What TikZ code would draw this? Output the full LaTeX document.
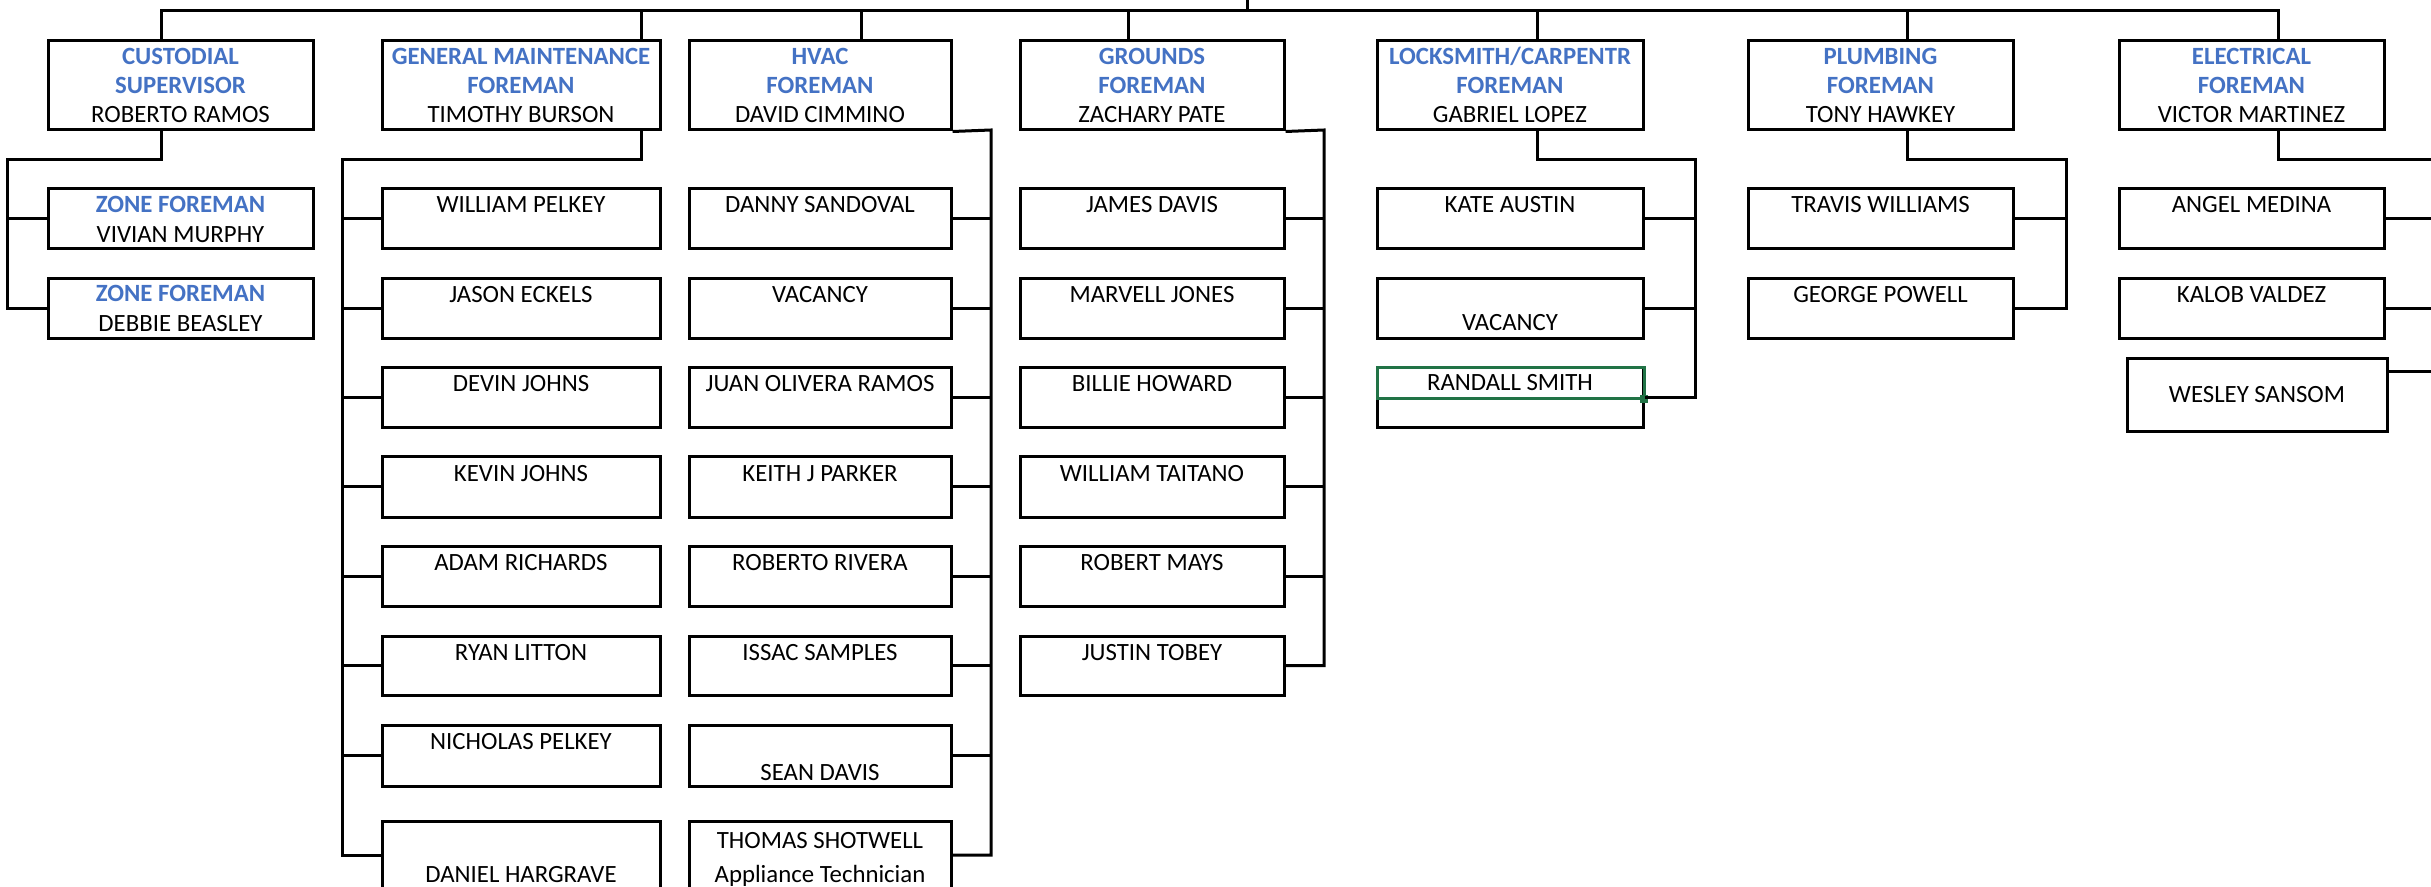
\documentclass[tikz,border=0pt]{standalone}
\usepackage{fontspec}
\setmainfont{Carlito}
\usetikzlibrary{fit}
\definecolor{ttlblue}{HTML}{4472C4}
\definecolor{selgreen}{HTML}{217346}
\begin{document}
\begin{tikzpicture}[x=0.5pt,y=-0.5pt,
  box/.style={draw=black, line width=1.5pt, inner sep=0pt},
  selbox/.style={draw=selgreen, line width=1.5pt, inner sep=0pt},
  wire/.style={draw=black, line width=1.5pt},
  nm/.style={inner sep=0pt, font=\fontsize{12.4pt}{15pt}\selectfont, text height=8pt, text depth=0pt, text=black},
  ttl/.style={nm, font=\fontsize{12.4pt}{15pt}\selectfont\bfseries, text=ttlblue}]
\useasboundingbox (0,0) rectangle (2431,887);
\clip (0,0) rectangle (2431,887);
\fill[white] (0,0) rectangle (2431,887);

% ---------- header boxes
\node[box, fit={(48,41) (313,130)}] (cust) {};
\node[box, fit={(382,41) (660,130)}] (gm) {};
\node[box, fit={(689,41) (951,130)}] (hvac) {};
\node[box, fit={(1020,41) (1284,130)}] (grd) {};
\node[box, fit={(1377,41) (1643,130)}] (lock) {};
\node[box, fit={(1748,41) (2013,130)}] (plmb) {};
\node[box, fit={(2119,41) (2384,130)}] (elec) {};

% ---------- child boxes
\foreach \i/\t/\b in {1/189/249, 2/279/339, 3/368/428, 4/457/517, 5/546/606, 6/636/695, 7/725/786, 8/821/889} {
  \node[box, fit={(382,\t) (660,\b)}] (g\i) {};
  \node[box, fit={(689,\t) (951,\b)}] (h\i) {};
}
\foreach \i/\t/\b in {1/189/249, 2/279/339, 3/368/428, 4/457/517, 5/546/606, 6/636/695} {
  \node[box, fit={(1020,\t) (1284,\b)}] (gr\i) {};
}
\foreach \i/\t/\b in {1/189/249, 2/279/339} {
  \node[box, fit={(48,\t) (313,\b)}] (c\i) {};
  \node[box, fit={(1748,\t) (2013,\b)}] (p\i) {};
  \node[box, fit={(2119,\t) (2384,\b)}] (e\i) {};
}
\foreach \i/\t/\b in {1/189/249, 2/279/339, 3/368/428} {
  \node[box, fit={(1377,\t) (1643,\b)}] (l\i) {};
}
\node[box, fit={(2127,359) (2387,432)}] (e3) {};
\node[selbox, fit={(1377,368) (1644,399)}] (sel) {};
\fill[selgreen] (1640,395) rectangle (1648,403);

% ---------- coordinates
\coordinate (root) at (1247,-5);
\coordinate (cT) at (161,11);
\coordinate (gT) at (641,11);
\coordinate (hT) at (861,11);
\coordinate (grT) at (1128,11);
\coordinate (lT) at (1537,11);
\coordinate (pT) at (1907,11);
\coordinate (eT) at (2278,11);
\coordinate (cBus) at (7,160);
\coordinate (gBus) at (342,160);
\coordinate (hBus) at (991,130);
\coordinate (grBus) at (1324,130);
\coordinate (lBus) at (1695,160);
\coordinate (pBus) at (2066,160);
\coordinate (eBus) at (2460,160);
\coordinate (wsPort) at (2387,372);

% ---------- connectors
\draw[wire] (cust.north -| cT) -- (cT) -- (eT) -- (elec.north -| eT);
\draw[wire] (root) -- (root |- cT);
\foreach \b/\c in {gm/gT, hvac/hT, grd/grT, lock/lT, plmb/pT}
  \draw[wire] (\c) -- (\b.north -| \c);

\draw[wire] (cust.south -| cT) |- (cBus) -- (cBus |- c2) -- (c2.west);
\draw[wire] (cBus |- c1) -- (c1.west);

\draw[wire] (gm.south -| gT) |- (gBus) -- (gBus |- g8) -- (g8.west);
\foreach \i in {1,...,7} \draw[wire] (gBus |- g\i) -- (g\i.west);

\draw[wire] (hvac.south east) -- (hBus) -- (hBus |- h8) -- (h8.east);
\foreach \i in {1,...,7} \draw[wire] (h\i.east) -- (hBus |- h\i);

\draw[wire] (grd.south east) -- (grBus) -- (grBus |- gr6) -- (gr6.east);
\foreach \i in {1,...,5} \draw[wire] (gr\i.east) -- (grBus |- gr\i);

\draw[wire] (lock.south -| lT) |- (lBus) -- (lBus |- l3) -- (l3.east);
\foreach \i in {1,2} \draw[wire] (l\i.east) -- (lBus |- l\i);

\draw[wire] (plmb.south -| pT) |- (pBus) -- (pBus |- p2) -- (p2.east);
\draw[wire] (p1.east) -- (pBus |- p1);

\draw[wire] (elec.south -| eT) |- (eBus) -- (eBus |- wsPort) -- (wsPort);
\foreach \i in {1,2} \draw[wire] (e\i.east) -- (eBus |- e\i);

% ---------- header texts
\node[ttl] (cuA) at (180.5,57) {CUSTODIAL};
\node[ttl] (cuB) at (180.5,86) {SUPERVISOR};
\node[nm]  (cuC) at (180.5,115) {ROBERTO RAMOS};
\node[ttl] (gmA) at (521,57) {GENERAL MAINTENANCE};
\node[ttl] (gmB) at (521,86) {FOREMAN};
\node[nm]  (gmC) at (521,115) {TIMOTHY BURSON};
\node[ttl] (hvA) at (820,57) {HVAC};
\node[ttl] (hvB) at (820,86) {FOREMAN};
\node[nm]  (hvC) at (820,115) {DAVID CIMMINO};
\node[ttl] (grA) at (1152,57) {GROUNDS};
\node[ttl] (grB) at (1152,86) {FOREMAN};
\node[nm]  (grC) at (1152,115) {ZACHARY PATE};
\node[ttl] (loA) at (1510,57) {LOCKSMITH/CARPENTR};
\node[ttl] (loB) at (1510,86) {FOREMAN};
\node[nm]  (loC) at (1510,115) {GABRIEL LOPEZ};
\node[ttl] (plA) at (1880.5,57) {PLUMBING};
\node[ttl] (plB) at (1880.5,86) {FOREMAN};
\node[nm]  (plC) at (1880.5,115) {TONY HAWKEY};
\node[ttl] (elA) at (2251.5,57) {ELECTRICAL};
\node[ttl] (elB) at (2251.5,86) {FOREMAN};
\node[nm]  (elC) at (2251.5,115) {VICTOR MARTINEZ};

% ---------- custodial children
\node[ttl] (z1a) at (180.5,205) {ZONE FOREMAN};
\node[nm]  (z1b) at (180.5,235) {VIVIAN MURPHY};
\node[ttl] (z2a) at (180.5,294) {ZONE FOREMAN};
\node[nm]  (z2b) at (180.5,324) {DEBBIE BEASLEY};

% ---------- general maintenance children
\node[nm] (gt1) at (521,205) {WILLIAM PELKEY};
\node[nm] (gt2) at (521,295) {JASON ECKELS};
\node[nm] (gt3) at (521,384) {DEVIN JOHNS};
\node[nm] (gt4) at (521,473) {KEVIN JOHNS};
\node[nm] (gt5) at (521,562) {ADAM RICHARDS};
\node[nm] (gt6) at (521,652) {RYAN LITTON};
\node[nm] (gt7) at (521,741) {NICHOLAS PELKEY};
\node[nm] (gt8) at (521,874) {DANIEL HARGRAVE};

% ---------- hvac children
\node[nm] (ht1) at (820,205) {DANNY SANDOVAL};
\node[nm] (ht2) at (820,295) {VACANCY};
\node[nm] (ht3) at (820,384) {JUAN OLIVERA RAMOS};
\node[nm] (ht4) at (820,473) {KEITH J PARKER};
\node[nm] (ht5) at (820,562) {ROBERTO RIVERA};
\node[nm] (ht6) at (820,652) {ISSAC SAMPLES};
\node[nm] (ht7) at (820,772) {SEAN DAVIS};
\node[nm] (ht8a) at (820,840) {THOMAS SHOTWELL};
\node[nm] (ht8b) at (820,874) {Appliance Technician};

% ---------- grounds children
\node[nm] (rt1) at (1152,205) {JAMES DAVIS};
\node[nm] (rt2) at (1152,295) {MARVELL JONES};
\node[nm] (rt3) at (1152,384) {BILLIE HOWARD};
\node[nm] (rt4) at (1152,473) {WILLIAM TAITANO};
\node[nm] (rt5) at (1152,562) {ROBERT MAYS};
\node[nm] (rt6) at (1152,652) {JUSTIN TOBEY};

% ---------- locksmith children
\node[nm] (lt1) at (1510,205) {KATE AUSTIN};
\node[nm] (lt2) at (1510,323) {VACANCY};
\node[nm] (lt3) at (1510,383) {RANDALL SMITH};

% ---------- plumbing children
\node[nm] (pt1) at (1880.5,205) {TRAVIS WILLIAMS};
\node[nm] (pt2) at (1880.5,295) {GEORGE POWELL};

% ---------- electrical children
\node[nm] (et1) at (2251.5,205) {ANGEL MEDINA};
\node[nm] (et2) at (2251.5,295) {KALOB VALDEZ};
\node[nm] (et3) at (2257,395) {WESLEY SANSOM};
\end{tikzpicture}
\end{document}
